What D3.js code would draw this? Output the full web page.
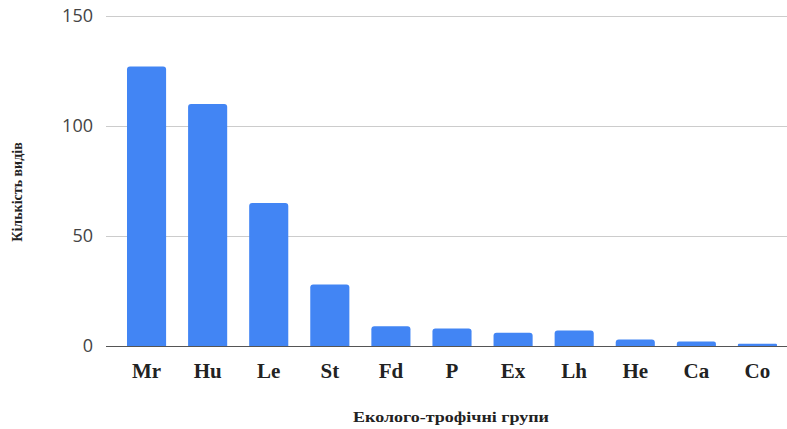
<!DOCTYPE html>
<html>
<head>
<meta charset="utf-8">
<script src="https://cdn.jsdelivr.net/npm/d3@7"></script>
<style>
  body { margin: 0; background: #fff; }
  svg { display: block; }
</style>
</head>
<body>
<div id="chart"></div>
<script>
// data
const groups = ['Mr', 'Hu', 'Le', 'St', 'Fd', 'P', 'Ex', 'Lh', 'He', 'Ca', 'Co'];
const counts = [127, 110, 65, 28, 9, 8, 6, 7, 3, 2, 1];
const yTicks = [0, 50, 100, 150];

const W = 787, H = 429;
const margin = { top: 16, left: 106, right: 0, bottom: 83 };
const plotBottom = H - margin.bottom;

const svg = d3.select('#chart')
  .append('svg')
  .attr('width', W)
  .attr('height', H);

const x = d3.scaleBand()
  .domain(groups)
  .range([116, 788])
  .paddingInner(0.36)
  .paddingOuter(0.18);

const y = d3.scaleLinear()
  .domain([0, 150])
  .range([plotBottom, margin.top]);

// gridlines
svg.append('g')
  .selectAll('line')
  .data(yTicks.filter(d => d > 0))
  .enter()
  .append('line')
  .attr('x1', margin.left)
  .attr('x2', W)
  .attr('y1', d => y(d) + 0.5)
  .attr('y2', d => y(d) + 0.5)
  .attr('stroke', '#cccccc')
  .attr('stroke-width', 1);

// y tick labels
svg.append('g')
  .selectAll('text')
  .data(yTicks)
  .enter()
  .append('text')
  .attr('x', 93)
  .attr('y', d => y(d))
  .attr('dy', '0.36em')
  .attr('text-anchor', 'end')
  .style('font-family', '"Open Sans", "DejaVu Sans", sans-serif')
  .style('font-size', '18px')
  .style('fill', '#444')
  .text(d => d);

// bars with rounded top corners
const r = 3;
function barPath(d, i) {
  const x0 = x(d), w = x.bandwidth();
  const y0 = y(counts[i]), yb = y(0);
  const rr = Math.min(r, (yb - y0) / 2);
  return `M${x0},${yb}V${y0 + rr}Q${x0},${y0} ${x0 + rr},${y0}` +
    `H${x0 + w - rr}Q${x0 + w},${y0} ${x0 + w},${y0 + rr}V${yb}Z`;
}

svg.append('g')
  .selectAll('path')
  .data(groups)
  .enter()
  .append('path')
  .attr('d', barPath)
  .attr('fill', '#4285f4');

// zero line
svg.append('line')
  .attr('x1', margin.left)
  .attr('x2', W)
  .attr('y1', y(0) + 0.5)
  .attr('y2', y(0) + 0.5)
  .attr('stroke', '#555')
  .attr('stroke-width', 1.2);

// x labels
svg.append('g')
  .selectAll('text')
  .data(groups)
  .enter()
  .append('text')
  .attr('x', d => x(d) + x.bandwidth() / 2)
  .attr('y', 378)
  .attr('text-anchor', 'middle')
  .style('font-family', '"Liberation Serif", "DejaVu Serif", serif')
  .style('font-weight', 'bold')
  .style('font-size', '21px')
  .style('fill', '#222')
  .text(d => d);

// axis titles
svg.append('text')
  .attr('x', 451)
  .attr('y', 422)
  .attr('text-anchor', 'middle')
  .attr('textLength', 196)
  .attr('lengthAdjust', 'spacingAndGlyphs')
  .style('font-family', '"Liberation Serif", "DejaVu Serif", serif')
  .style('font-weight', 'bold')
  .style('font-size', '15px')
  .style('fill', '#222')
  .text('Еколого-трофічні групи');

svg.append('text')
  .attr('transform', 'translate(22,192) rotate(-90)')
  .attr('text-anchor', 'middle')
  .style('font-family', '"Liberation Serif", "DejaVu Serif", serif')
  .style('font-weight', 'bold')
  .style('font-size', '14px')
  .style('fill', '#222')
  .text('Кількість видів');
</script>
</body>
</html>
